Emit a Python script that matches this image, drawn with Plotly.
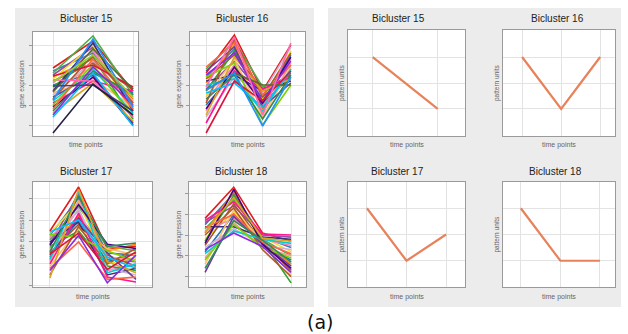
import plotly.graph_objects as go

# ---------------- data ----------------
B15_t = [1, 2, 3]
B15 = [
    [0.85, 2.2, -0.3], [0.7, 1.6, -0.9], [0.6, 2.45, -0.5], [0.5, 1.9, -1.2],
    [0.4, 1.3, -0.7], [0.3, 2.0, -1.5], [0.2, 1.1, -0.2], [0.1, 1.7, -1.0],
    [0.0, 0.6, -0.4], [-0.1, 1.4, -1.7], [-0.2, 0.9, -0.8], [-0.3, 2.1, -1.3],
    [-0.4, 0.3, -1.1], [-0.5, 1.2, -0.6], [-0.6, 0.5, -1.9], [-0.7, 1.5, -0.9],
    [-0.8, 0.8, -1.4], [-0.9, 0.2, -0.3], [-1.0, 1.0, -1.6], [-1.1, 0.4, -2.0],
    [-1.2, 1.3, -1.2], [-1.3, 0.7, -0.5], [-1.4, 0.1, -1.8], [-1.5, 0.9, -1.0],
    [-1.6, 0.6, -2.05], [0.45, 1.0, -0.1], [-0.35, 1.8, -0.2], [0.25, 0.2, -1.6],
    [-0.75, 2.3, -1.1], [0.15, 1.5, -0.6], [-0.05, 0.0, -1.3], [-2.4, 0.05, -1.5],
]

B16_t = [1, 2, 3, 4]
B16 = [
    [0.6, 2.5, -0.3, 2.0], [0.4, 1.8, -0.8, 1.5], [0.8, 2.2, -0.1, 0.3],
    [-0.2, 1.2, -0.5, 1.0], [0.1, 2.0, -1.2, 0.8], [-0.5, 0.9, -0.7, 1.7],
    [0.3, 1.5, -0.2, 0.5], [-0.8, 1.0, -1.0, 1.3], [-1.0, 0.6, -0.6, 0.6],
    [-0.3, 1.7, -0.9, 0.4], [-1.3, 0.8, -1.4, 1.1], [0.2, 0.5, -0.3, 0.2],
    [-0.6, 1.3, -1.6, 0.9], [-1.6, 0.4, -0.4, 1.9], [0.7, 1.9, -1.1, 0.1],
    [-0.9, 2.3, -0.6, 1.6], [0.0, 0.3, -1.3, 0.8], [-1.9, 0.7, -0.2, 0.4],
    [0.4, 1.1, -2.0, 0.0], [-1.2, 0.9, -0.9, 1.4], [0.9, 2.1, -0.5, 1.0],
    [-0.7, 0.5, -1.7, 0.5], [-1.5, 1.4, -0.3, 0.3], [0.5, 1.6, -0.8, 1.2],
    [-0.4, 0.1, -1.1, 0.7], [-2.4, 0.2, -0.8, 0.7], [-0.25, 0.6, 0.0, 0.0],
    [-0.1, 2.4, -1.5, 2.1], [-0.25, 0.6, -2.05, 0.4],
]

B17_t = [1, 2, 3, 4]
B17 = [
    [0.5, 2.5, -0.3, -0.2], [0.3, 2.0, -0.5, -0.6], [0.1, 1.6, -0.2, -0.4],
    [-0.1, 2.2, -0.8, -0.9], [-0.3, 1.2, -0.4, -0.1], [0.4, 1.8, -1.0, -0.7],
    [-0.5, 0.8, -0.6, -1.1], [0.2, 1.4, -1.3, -1.0], [-0.7, 1.0, -0.9, -0.5],
    [-0.2, 0.5, -1.1, -1.3], [-0.9, 1.9, -0.7, -0.8], [0.0, 0.9, -1.5, -1.2],
    [-1.1, 0.6, -0.3, -0.6], [-0.4, 1.5, -1.2, -1.5], [-0.6, 1.1, -0.5, -1.7],
    [-1.5, 0.7, -1.0, -0.3], [-0.8, 2.3, -1.4, -1.0], [-1.0, 1.3, -1.6, -1.82],
    [0.35, 0.2, -0.4, -0.9], [-0.15, 1.7, -0.1, -0.3], [-1.2, 0.0, -1.7, -1.6],
    [-0.45, 2.1, -0.2, -0.05], [-1.64, 2.4, -0.9, -1.4], [-1.3, 0.3, -1.86, -0.6],
    [0.45, 1.0, -0.7, -1.2], [-0.55, 0.4, -1.25, -0.45],
]

B18_t = [1, 2, 3, 4]
B18 = [
    [0.8, 2.3, 0.1, -0.3], [0.5, 2.0, -0.1, -0.6], [0.3, 1.7, -0.2, -1.0],
    [0.6, 1.4, 0.0, -0.1], [0.1, 2.1, -0.3, -1.4], [-0.2, 1.1, -0.1, -0.8],
    [-0.5, 1.5, -0.4, -1.7], [0.2, 0.8, -0.2, -0.5], [-0.8, 1.0, -0.5, -1.2],
    [-0.3, 1.9, -0.3, -2.3], [-1.1, 0.6, -0.6, -1.0], [0.4, 0.4, -0.1, -0.2],
    [-1.4, 1.2, -0.3, -1.9], [-0.6, 0.3, -0.5, -0.7], [-1.8, 0.9, -0.4, -1.5],
    [0.0, 1.3, -0.7, -2.0], [-0.9, 0.2, -0.2, -0.4], [0.7, 1.6, 0.05, 0.0],
    [-1.2, 0.5, -0.6, -1.1], [-0.4, 2.2, -0.45, -1.6], [0.35, 1.0, -0.35, -0.9],
    [-1.6, 0.7, -0.25, -1.3], [0.15, 1.8, -0.15, -0.3], [-0.7, 0.1, -0.55, -1.8],
]

P15_t = [1, 2]
P15 = [1, -1]
P16_t = [1, 2, 3]
P16 = [1, -1, 1]
P17_t = [1, 2, 3]
P17 = [1, -1, 0]
P18_t = [1, 2, 3]
P18 = [1, -1, -1]

TITLES = ["Bicluster 15", "Bicluster 16", "Bicluster 17", "Bicluster 18"]
XLABEL = "time points"
YLABEL_L = "gene expression"
YLABEL_R = "pattern units"
PANEL_LABEL = "(a)"

# ---------------- styling ----------------
W, H = 628, 334
PALETTE = ["#e41a1c", "#377eb8", "#4daf4a", "#984ea3", "#ff7f00", "#f2e02a",
           "#a65628", "#f781bf", "#1f78b4", "#33a02c", "#fb9a99", "#3b2f7a",
           "#fdbf6f", "#cab2d6", "#6a3d9a", "#b15928", "#00ced1", "#ff1493",
           "#7fd000", "#4b0082", "#ff6347", "#2e8b57", "#daa520", "#8a2be2",
           "#00bfff", "#dc143c", "#556b2f", "#ff69b4", "#1e90ff", "#9acd32",
           "#483d8b", "#222244"]
PATTERN_COLOR = "#e8825a"
GRID = "#e3e3e3"
BOX = "#9a9a9a"
PANEL = "#ececec"
FONT = "Liberation Sans, Arial, sans-serif"


def px(x):
    return x / W


def py(y):
    return 1 - y / H


left_specs = [
    dict(box=(33, 138, 32, 136), xr=[0.5, 3.125], yr=[-2.55, 2.65], t=B15_t, d=B15, title_x=86, title_y=19, lab_y=145, ylab_x=22),
    dict(box=(190, 305, 32, 136), xr=[0.43, 4.5], yr=[-2.55, 2.65], t=B16_t, d=B16, title_x=242, title_y=19, lab_y=145, ylab_x=179),
    dict(box=(33, 152, 182, 287), xr=[0.41, 4.56], yr=[-2.05, 2.73], t=B17_t, d=B17, title_x=86, title_y=172, lab_y=297, ylab_x=22),
    dict(box=(189, 306, 182, 287), xr=[0.44, 4.52], yr=[-2.50, 2.55], t=B18_t, d=B18, title_x=241, title_y=172, lab_y=297, ylab_x=179),
]
right_specs = [
    dict(box=(348, 465, 30, 136), xr=[0.62, 2.42], yr=[-2.04, 2.04], t=P15_t, d=P15, title_x=398, title_y=19, lab_y=145, ylab_x=342),
    dict(box=(503, 615, 30, 136), xr=[0.51, 3.38], yr=[-2.04, 2.04], t=P16_t, d=P16, title_x=557, title_y=19, lab_y=145, ylab_x=497),
    dict(box=(348, 465, 182, 287), xr=[0.52, 3.48], yr=[-2.0, 2.0], t=P17_t, d=P17, title_x=397, title_y=171, lab_y=297, ylab_x=342),
    dict(box=(503, 615, 182, 287), xr=[0.55, 3.38], yr=[-2.0, 2.0], t=P18_t, d=P18, title_x=555, title_y=171, lab_y=297, ylab_x=497),
]

fig = go.Figure()
layout = dict(
    width=W, height=H, margin=dict(l=0, r=0, t=0, b=0),
    paper_bgcolor="white", plot_bgcolor="white", showlegend=False,
    font=dict(family=FONT),
)
shapes = [
    dict(type="rect", xref="paper", yref="paper", x0=px(15), x1=px(314), y0=py(307), y1=py(8),
         fillcolor=PANEL, line=dict(width=0), layer="below"),
    dict(type="rect", xref="paper", yref="paper", x0=px(328), x1=px(621), y0=py(307), y1=py(8),
         fillcolor=PANEL, line=dict(width=0), layer="below"),
]
annotations = []

idx = 0
for side, specs in (("L", left_specs), ("R", right_specs)):
    for k, s in enumerate(specs):
        idx += 1
        xa = "x" if idx == 1 else f"x{idx}"
        ya = "y" if idx == 1 else f"y{idx}"
        x0, x1, y0, y1 = s["box"]
        shapes.append(dict(type="rect", xref="paper", yref="paper", x0=px(x0), x1=px(x1),
                           y0=py(y1), y1=py(y0), fillcolor="white", line=dict(width=0), layer="below"))
        if side == "L":
            for j, row in enumerate(s["d"]):
                fig.add_trace(go.Scatter(x=s["t"], y=row, mode="lines", xaxis=xa, yaxis=ya,
                                         line=dict(color=PALETTE[j % len(PALETTE)], width=1.6)))
            ytv = [-2, -1, 0, 1, 2]
            ticklen = 3
        else:
            fig.add_trace(go.Scatter(x=s["t"], y=s["d"], mode="lines", xaxis=xa, yaxis=ya,
                                     line=dict(color=PATTERN_COLOR, width=2.2)))
            ytv = [-1, 0, 1]
            ticklen = 0
        layout["xaxis" if idx == 1 else f"xaxis{idx}"] = dict(
            domain=[px(x0), px(x1)], range=s["xr"], anchor=ya, tickvals=s["t"],
            showticklabels=False, ticks="", showgrid=True, gridcolor=GRID, gridwidth=1,
            zeroline=False, showline=True, linecolor=BOX, linewidth=1, mirror=True, fixedrange=True)
        layout["yaxis" if idx == 1 else f"yaxis{idx}"] = dict(
            domain=[py(y1), py(y0)], range=s["yr"], anchor=xa, tickvals=ytv,
            showticklabels=False, ticks="outside" if ticklen else "", ticklen=ticklen,
            tickcolor=BOX, showgrid=True, gridcolor=GRID, gridwidth=1,
            zeroline=False, showline=True, linecolor=BOX, linewidth=1, mirror=True, fixedrange=True)
        annotations.append(dict(text=TITLES[k], x=px(s["title_x"]), y=py(s["title_y"]), xref="paper", yref="paper",
                                showarrow=False, xanchor="center", yanchor="middle",
                                font=dict(size=10, color="#222222", family=FONT)))
        annotations.append(dict(text=XLABEL, x=px((x0 + x1) / 2), y=py(s["lab_y"]), xref="paper", yref="paper",
                                showarrow=False, xanchor="center", yanchor="middle",
                                font=dict(size=7, color="#666666", family=FONT)))
        annotations.append(dict(text=YLABEL_L if side == "L" else YLABEL_R, x=px(s["ylab_x"]),
                                y=py((y0 + y1) / 2), xref="paper", yref="paper", textangle=-90,
                                showarrow=False, xanchor="center", yanchor="middle",
                                font=dict(size=6.5, color="#666666", family=FONT)))

annotations.append(dict(text=PANEL_LABEL, x=px(320), y=py(322), xref="paper", yref="paper",
                        showarrow=False, xanchor="center", yanchor="middle",
                        font=dict(size=19, color="#111111", family="DejaVu Sans, sans-serif")))

layout["shapes"] = shapes
layout["annotations"] = annotations
fig.update_layout(**layout)
fig.write_html("out.html", config={"displayModeBar": False, "staticPlot": True},
               post_script="document.body.style.margin='0';document.body.style.padding='0';")
